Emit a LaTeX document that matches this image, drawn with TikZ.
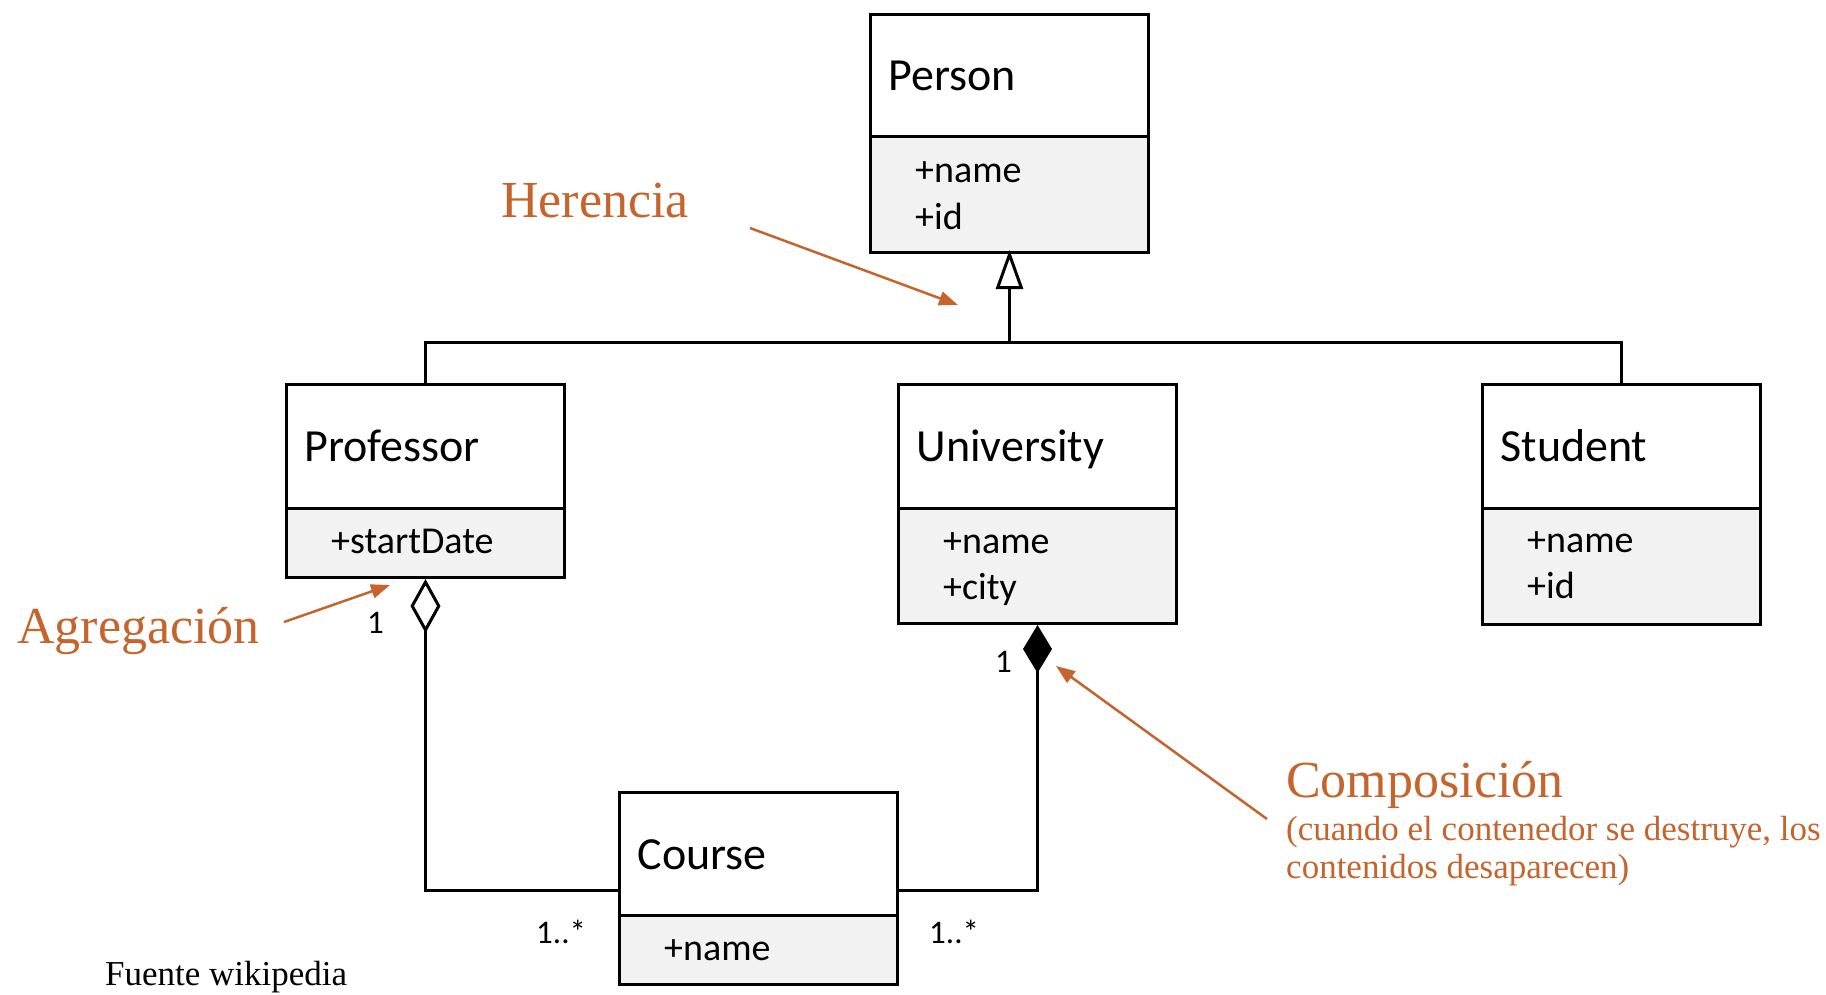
\documentclass[tikz,border=0pt]{standalone}
\usepackage{fontspec}
\setmainfont{Carlito}
\newfontfamily\serifann{Liberation Serif}
\usetikzlibrary{arrows.meta,calc}
\definecolor{annor}{RGB}{197,100,45}
\definecolor{attrfill}{RGB}{242,242,242}
\begin{document}
\begin{tikzpicture}[x=1pt,y=-1pt,
  box/.style={draw=black, line width=3pt, anchor=north west, inner sep=0pt, minimum width=278pt},
  hdr/.style={box, fill=white, text width=242pt, inner xsep=18pt, inner ysep=0pt, align=left,
              font=\fontsize{46}{50}\selectfont, text height=30pt, text depth=0pt},
  attr/.style={box, fill=attrfill},
  attrtxt/.style={anchor=base west, inner sep=0pt, font=\fontsize{38}{44}\selectfont},
  mult/.style={anchor=base west, inner sep=0pt, font=\fontsize{33}{38}\selectfont},
  conn/.style={draw=black, line width=3pt},
  orarr/.style={draw=annor, line width=2.5pt, -{Triangle[length=19pt,width=14pt]}},
  anntxt/.style={anchor=base west, inner sep=0pt, text=annor, font=\serifann\fontsize{52}{58}\selectfont},
  annsub/.style={anchor=base west, inner sep=0pt, text=annor, font=\serifann\fontsize{35}{40}\selectfont},
  srctxt/.style={anchor=base west, inner sep=0pt, font=\serifann\fontsize{35}{40}\selectfont}
]
\useasboundingbox (0,0) rectangle (1826,994);

% Person
\node[attr, minimum height=116pt] (personattr) at (869,135) {};
\node[hdr, minimum height=122pt] (person) at (869,13) {Person};
\node[attrtxt] (personname) at (915,182) {+name};
\node[attrtxt] (personid) at (915,229) {+id};

% Professor
\node[attr, minimum height=69pt] (profattr) at (285,507) {};
\node[hdr, minimum height=124pt] (prof) at (285,383) {Professor};
\node[attrtxt] (profdate) at (331,553) {+startDate};

% University
\node[attr, minimum height=115pt] (univattr) at (897,507) {};
\node[hdr, minimum height=124pt] (univ) at (897,383) {University};
\node[attrtxt] (univname) at (943,553) {+name};
\node[attrtxt] (univcity) at (943,599) {+city};

% Student
\node[attr, minimum height=116pt] (studattr) at (1481,507) {};
\node[hdr, minimum height=124pt] (student) at (1481,383) {Student};
\node[attrtxt] (studname) at (1527,552) {+name};
\node[attrtxt] (studid) at (1527,598) {+id};

% Course
\node[attr, minimum height=69pt] (courseattr) at (618,914) {};
\node[hdr, minimum height=123pt] (courseh) at (618,791) {Course};
\node[attrtxt] (coursename) at (664,960) {+name};

% Inheritance
\coordinate (bus) at (personattr.south |- 0,342);
\draw[conn] (prof.north) |- (bus) -| (student.north);
\draw[conn, shorten >=-4pt, -{Triangle[open,length=39pt,width=27pt]}] (bus) -- (personattr.south);

% Aggregation
\coordinate (courseL) at ($(courseh.south west)+(0,-27)$);
\draw[conn, {Diamond[open,length=54pt,width=30pt]}-] (profattr.south) |- (courseL);

% Composition
\coordinate (courseR) at ($(courseh.south east)+(0,-27)$);
\draw[conn, {Diamond[length=48pt,width=29pt]}-] (univattr.south) |- (courseR);

% Multiplicities
\node[mult] (m1) at (367,633) {1};
\node[mult] (m2) at (995,672) {1};
\node[mult] (m3) at (536,943) {1..*};
\node[mult] (m4) at (929,943) {1..*};

% Annotations
\node[anntxt] (herencia) at (501,217) {Herencia};
\coordinate (hA) at (750,228);
\coordinate (hB) at (958,305);
\draw[orarr] (hA) -- (hB);

\node[anntxt] (agreg) at (17,643) {Agregación};
\coordinate (aA) at (284,622);
\coordinate (aB) at (390,585);
\draw[orarr] (aA) -- (aB);

\node[anntxt] (compo) at (1286,797) {Composición};
\node[annsub] (compo2) at (1286,840) {(cuando el contenedor se destruye, los};
\node[annsub] (compo3) at (1286,878) {contenidos desaparecen)};
\coordinate (cA) at (1267,819);
\coordinate (cB) at (1056,666);
\draw[orarr] (cA) -- (cB);

\node[srctxt] (fuente) at (105,985) {Fuente wikipedia};
\end{tikzpicture}
\end{document}
